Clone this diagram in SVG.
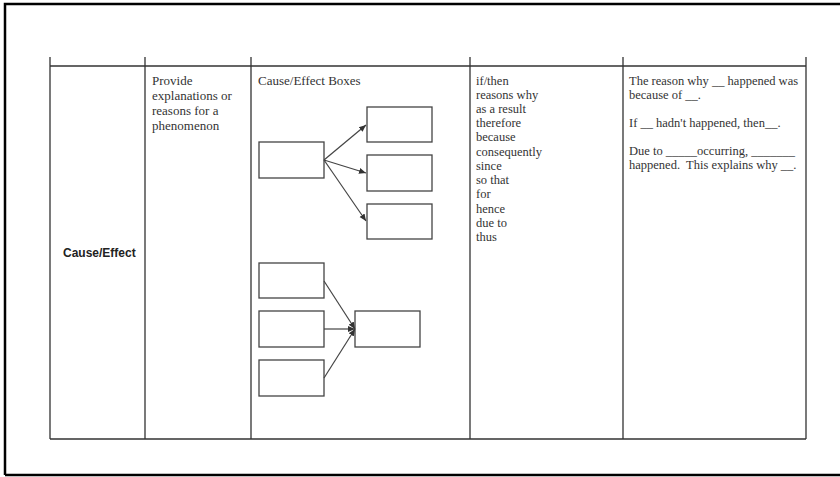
<svg xmlns="http://www.w3.org/2000/svg" width="840" height="477" viewBox="0 0 840 477">
<defs>
<marker id="ah" markerWidth="8" markerHeight="8" refX="7" refY="4" orient="auto" markerUnits="userSpaceOnUse">
<path d="M0,1 L7,4 L0,7 Z" fill="#333"/>
</marker>
<style>
.frame{fill:none;stroke:#000;stroke-width:2.5}
.grid{stroke:#333;stroke-width:1.3;fill:none}
.box{fill:#fff;stroke:#444;stroke-width:1.3}
.conn{stroke:#444;stroke-width:1.2;fill:none;marker-end:url(#ah)}
.t{font-family:"Liberation Serif","DejaVu Serif",serif;fill:#333}
.big{font-size:13px}
.sm{font-size:12.5px}
.hd{font-family:"Liberation Sans","DejaVu Sans",sans-serif;font-weight:bold;font-size:12px;fill:#222}
</style>
</defs>
<rect width="840" height="477" fill="#fff"/>
<path class="frame" d="M5,475 L5,4 L842,4 M5,475 L842,475"/>
<g id="table">
<path class="grid" d="M50,66 L806,66 M50,439 L806,439 M50,57 L50,439 M145,57 L145,439 M251,57 L251,439 M470,57 L470,439 M623,57 L623,439 M806,57 L806,439"/>
</g>
<g id="col1"><text class="hd" x="63" y="257">Cause/Effect</text></g>
<g id="col2">
<text class="t big" x="152" y="85">Provide</text>
<text class="t big" x="152" y="100">explanations or</text>
<text class="t big" x="152" y="115">reasons for a</text>
<text class="t big" x="152" y="130">phenomenon</text>
</g>
<g id="col3title"><text class="t big" x="258" y="85">Cause/Effect Boxes</text></g>
<g id="cause1"><rect class="box" x="259" y="142" width="65" height="36"/></g>
<g id="effect1"><rect class="box" x="367" y="107" width="65" height="35"/></g>
<g id="effect2"><rect class="box" x="367" y="155" width="65" height="36"/></g>
<g id="effect3"><rect class="box" x="367" y="204" width="65" height="35"/></g>
<g id="cause2"><rect class="box" x="259" y="263" width="65" height="35"/></g>
<g id="cause3"><rect class="box" x="259" y="311" width="65" height="36"/></g>
<g id="cause4"><rect class="box" x="259" y="360" width="65" height="36"/></g>
<g id="effect4"><rect class="box" x="355" y="311" width="65" height="36"/></g>
<g id="connectors">
<path class="conn" d="M324,160 L366,125"/>
<path class="conn" d="M324,160 L366,173"/>
<path class="conn" d="M324,160 L366,221"/>
<path class="conn" d="M324,281 L355,329"/>
<path class="conn" d="M324,329 L355,329"/>
<path class="conn" d="M324,378 L355,329"/>
</g>
<g id="col4" class="t sm">
<text x="476" y="85">if/then</text>
<text x="476" y="99">reasons why</text>
<text x="476" y="113">as a result</text>
<text x="476" y="127">therefore</text>
<text x="476" y="141">because</text>
<text x="476" y="156">consequently</text>
<text x="476" y="170">since</text>
<text x="476" y="184">so that</text>
<text x="476" y="198">for</text>
<text x="476" y="213">hence</text>
<text x="476" y="227">due to</text>
<text x="476" y="241">thus</text>
</g>
<g id="col5" class="t sm">
<text x="629" y="85">The reason why __ happened was</text>
<text x="629" y="99">because of __.</text>
<text x="629" y="127">If __ hadn't happened, then__.</text>
<text x="629" y="155">Due to _____occurring, _______</text>
<text x="629" y="169" xml:space="preserve">happened.  This explains why __.</text>
</g>
</svg>
